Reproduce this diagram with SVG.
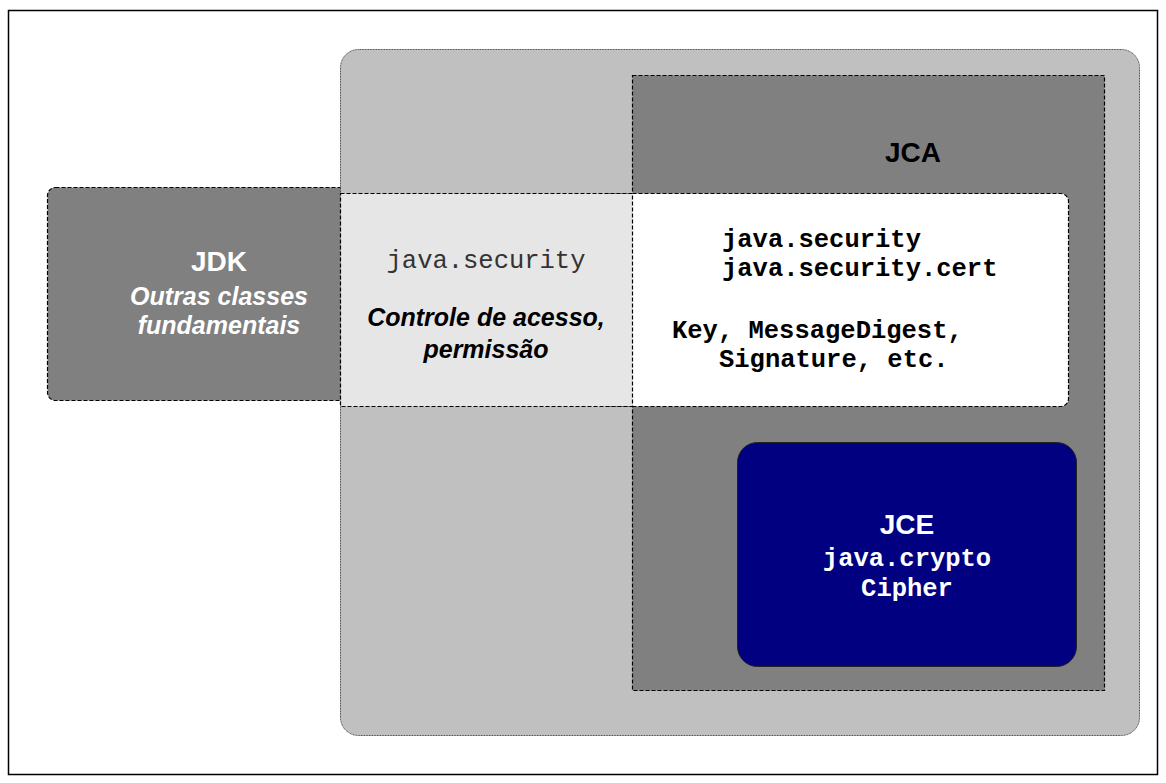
<svg xmlns="http://www.w3.org/2000/svg" width="1166" height="783" viewBox="0 0 1166 783">
  <style>
    .dash { stroke: #000; stroke-width: 1.2; stroke-dasharray: 4 2; }
    .title { font-family: "Liberation Sans", Arial, sans-serif; font-weight: bold; font-size: 28px; text-anchor: middle; }
    .desc { font-family: "Liberation Sans", Arial, sans-serif; font-weight: bold; font-style: italic; font-size: 25px; text-anchor: middle; }
    .mono { font-family: "Liberation Mono", "Courier New", monospace; font-size: 25.5px; }
    .monob { font-family: "Liberation Mono", "Courier New", monospace; font-size: 25.5px; font-weight: bold; }
  </style>
  <rect x="0" y="0" width="1166" height="783" fill="#fff"/>
  <rect id="frame" x="8.5" y="10.5" width="1149" height="764" fill="#fff" stroke="#000" stroke-width="1.5"/>

  <g id="jdk">
    <rect x="47.5" y="187.5" width="344" height="213" rx="8" fill="#808080" class="dash" stroke-width="1.7"/>
  </g>

  <g id="platform">
    <rect x="340.5" y="49.5" width="799" height="686" rx="18" fill="#C0C0C0" stroke="#444" stroke-width="1" stroke-dasharray="1 0.6"/>
  </g>

  <g id="jca">
    <rect x="632.5" y="75.5" width="472" height="615" fill="#808080" class="dash"/>
    <text class="title" x="913" y="162" fill="#000">JCA</text>
  </g>

  <g id="jca-classes">
    <rect x="600.5" y="193.5" width="468" height="213" rx="8" fill="#fff" class="dash"/>
  </g>

  <g id="java-security">
    <rect x="340.5" y="193.5" width="292" height="213" fill="#E6E6E6" class="dash"/>
    <text class="mono" x="486" y="268" text-anchor="middle" fill="#333">java.security</text>
    <text class="desc" x="486" y="326" fill="#000">Controle de acesso,</text>
    <text class="desc" x="486" y="358" fill="#000">permissão</text>
  </g>

  <g id="jca-text">
    <text class="monob" x="722" y="247" fill="#000">java.security</text>
    <text class="monob" x="722" y="276" fill="#000">java.security.cert</text>
    <text class="monob" x="672" y="338" fill="#000">Key, MessageDigest,</text>
    <text class="monob" x="719" y="367" fill="#000">Signature, etc.</text>
  </g>

  <g id="jdk-text">
    <text class="title" x="219" y="271" fill="#fff">JDK</text>
    <text class="desc" x="219" y="305" fill="#fff">Outras classes</text>
    <text class="desc" x="219" y="334" fill="#fff">fundamentais</text>
  </g>

  <g id="jce">
    <rect x="737.5" y="442.5" width="339" height="224" rx="20" fill="#000080" stroke="#222" stroke-width="1"/>
    <text class="title" x="907" y="534" fill="#fff">JCE</text>
    <text class="monob" x="907" y="566" fill="#fff" text-anchor="middle">java.crypto</text>
    <text class="monob" x="907" y="596" fill="#fff" text-anchor="middle">Cipher</text>
  </g>

  <g id="connectors"></g>
</svg>
